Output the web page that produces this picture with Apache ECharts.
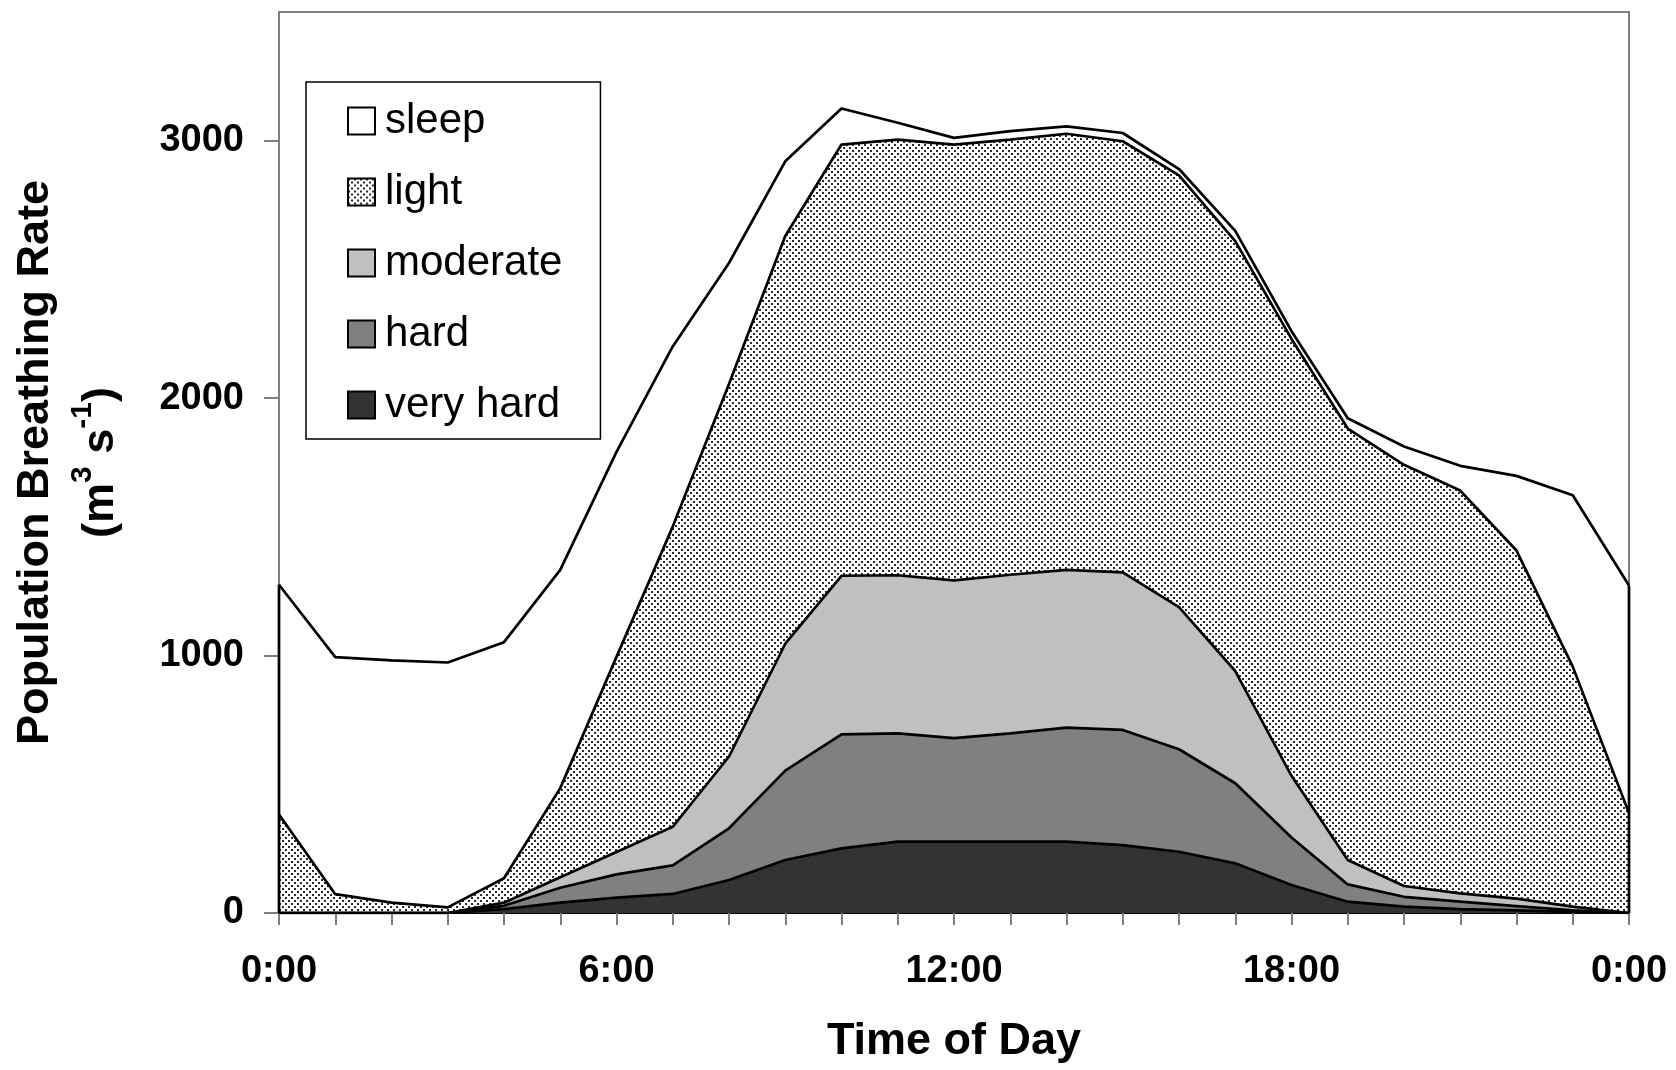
<!DOCTYPE html>
<html><head><meta charset="utf-8">
<script src="https://cdn.jsdelivr.net/npm/echarts@6/dist/echarts.min.js"></script>
<style>html,body{margin:0;padding:0;background:#fff}#c{width:1676px;height:1070px}</style>
</head><body><div id="c"></div>
<script>
// Time-of-day categories (hourly, 0:00 .. 24:00 shown as 0:00)
const hours = ['0:00','1:00','2:00','3:00','4:00','5:00','6:00','7:00','8:00','9:00','10:00','11:00',
  '12:00','13:00','14:00','15:00','16:00','17:00','18:00','19:00','20:00','21:00','22:00','23:00','0:00'];
const yTicks = [0, 1000, 2000, 3000];

// Population breathing rate (m3 s-1) by activity level (stacked components)
const veryHard = [0,0,0,0,15,40,60,74,128,206,251,277,277,277,277,264,238,193,109,44,25,15,10,4,0];
const hard     = [0,0,0,0,13,58,90,111,201,347,443,421,402,421,443,447,398,311,184,67,38,29,17,6,0];
const moderate = [0,0,0,0,12,41,87,150,279,493,616,614,613,616,613,612,552,436,240,95,42,32,29,15,0];
const light    = [383,73,40,22,95,346,758,1166,1447,1584,1675,1692,1693,1690,1694,1675,1677,1670,1697,1676,1636,1565,1352,932,388];
const sleep    = [892,921,941,951,917,848,796,700,470,290,140,66,26,33,29,32,25,40,30,40,71,96,290,666,884];

const legendOrder = ['sleep','light','moderate','hard','very hard'];

function dotPattern() {
  const c = document.createElement('canvas');
  c.width = 6; c.height = 6;
  const g = c.getContext('2d');
  g.fillStyle = '#ffffff'; g.fillRect(0, 0, 6, 6);
  g.fillStyle = '#2b2b2b';
  g.fillRect(0, 0, 2, 2);
  g.fillRect(3, 3, 2, 2);
  return c;
}
const lightFill = { image: dotPattern(), repeat: 'repeat' };

const fills = {
  'sleep': '#ffffff',
  'light': lightFill,
  'moderate': '#c0c0c0',
  'hard': '#808080',
  'very hard': '#333333'
};

const LW = 2.7;
function areaSeries(name, data, z) {
  return {
    name: name, type: 'line', stack: 'total', data: data, symbol: 'none', z: z,
    lineStyle: { color: '#000', width: LW },
    areaStyle: { color: fills[name], opacity: 1 },
    emphasis: { disabled: true }
  };
}

const totals = hours.map((_, i) => veryHard[i] + hard[i] + moderate[i] + light[i] + sleep[i]);
const last = hours.length - 1;

const FONT = 'Liberation Sans, Arial, sans-serif';

const chart = echarts.init(document.getElementById('c'), null, { renderer: 'canvas' });
chart.setOption({
  animation: false,
  backgroundColor: '#ffffff',
  textStyle: { fontFamily: FONT, color: '#000' },
  grid: { left: 279, right: 47, top: 12, bottom: 157, show: true, borderColor: '#808080', borderWidth: 2,
          containLabel: false, outerBoundsMode: 'none' },
  legend: {
    orient: 'vertical', left: 306, top: 82,
    padding: [18, 38, 13, 41],
    borderColor: '#000', borderWidth: 1.5, backgroundColor: '#fff',
    icon: 'rect', itemWidth: 27, itemHeight: 27, itemGap: 29,
    selectedMode: false,
    itemStyle: { borderColor: '#000', borderWidth: 2 },
    textStyle: { fontFamily: FONT, fontSize: 42, color: '#000', lineHeight: 42, padding: [0, 0, 0, 5] },
    data: legendOrder.map(n => ({ name: n, itemStyle: { color: fills[n], borderColor: '#000', borderWidth: 2 } }))
  },
  xAxis: {
    type: 'category', data: hours, boundaryGap: false,
    axisLine: { show: true, lineStyle: { color: '#000', width: 2 } },
    axisTick: { show: true, interval: 0, length: 12, lineStyle: { color: '#808080', width: 2 } },
    axisLabel: { interval: 5, fontFamily: FONT, fontSize: 38, fontWeight: 'bold', color: '#000', margin: 40 },
    splitLine: { show: false },
    name: 'Time of Day', nameLocation: 'middle', nameGap: 106,
    nameTextStyle: { fontFamily: FONT, fontSize: 45, fontWeight: 'bold', color: '#000' }
  },
  yAxis: {
    type: 'value', min: 0, max: 3500,
    axisLine: { show: true, lineStyle: { color: '#808080', width: 2 } },
    axisTick: { show: true, length: 15, customValues: yTicks, lineStyle: { color: '#808080', width: 2 } },
    axisLabel: { customValues: yTicks, formatter: v => String(v), fontFamily: FONT, fontSize: 38, fontWeight: 'bold', color: '#000', margin: 35 },
    splitLine: { show: false },
    name: '{t|Population Breathing Rate}\n{t|(m}{s|3}{t| s}{s|-1}{t|)}',
    nameLocation: 'middle', nameRotate: 90, nameGap: 146,
    nameTextStyle: {
      fontFamily: FONT, fontSize: 45, fontWeight: 'bold', color: '#000', lineHeight: 65,
      rich: {
        t: { fontFamily: FONT, fontSize: 45, fontWeight: 'bold', color: '#000', lineHeight: 65 },
        s: { fontFamily: FONT, fontSize: 30, fontWeight: 'bold', color: '#000', lineHeight: 26, verticalAlign: 'top' }
      }
    }
  },
  series: [
    areaSeries('very hard', veryHard, 7),
    areaSeries('hard', hard, 6),
    areaSeries('moderate', moderate, 5),
    areaSeries('light', light, 4),
    areaSeries('sleep', sleep, 3),
    { type: 'line', data: [[0, 0], [0, totals[0]]], symbol: 'none', z: 10, clip: false, silent: true,
      lineStyle: { color: '#000', width: LW } },
    { type: 'line', data: [[last, 0], [last, totals[last]]], symbol: 'none', z: 10, clip: false, silent: true,
      lineStyle: { color: '#000', width: LW } }
  ]
});
</script>
</body></html>
